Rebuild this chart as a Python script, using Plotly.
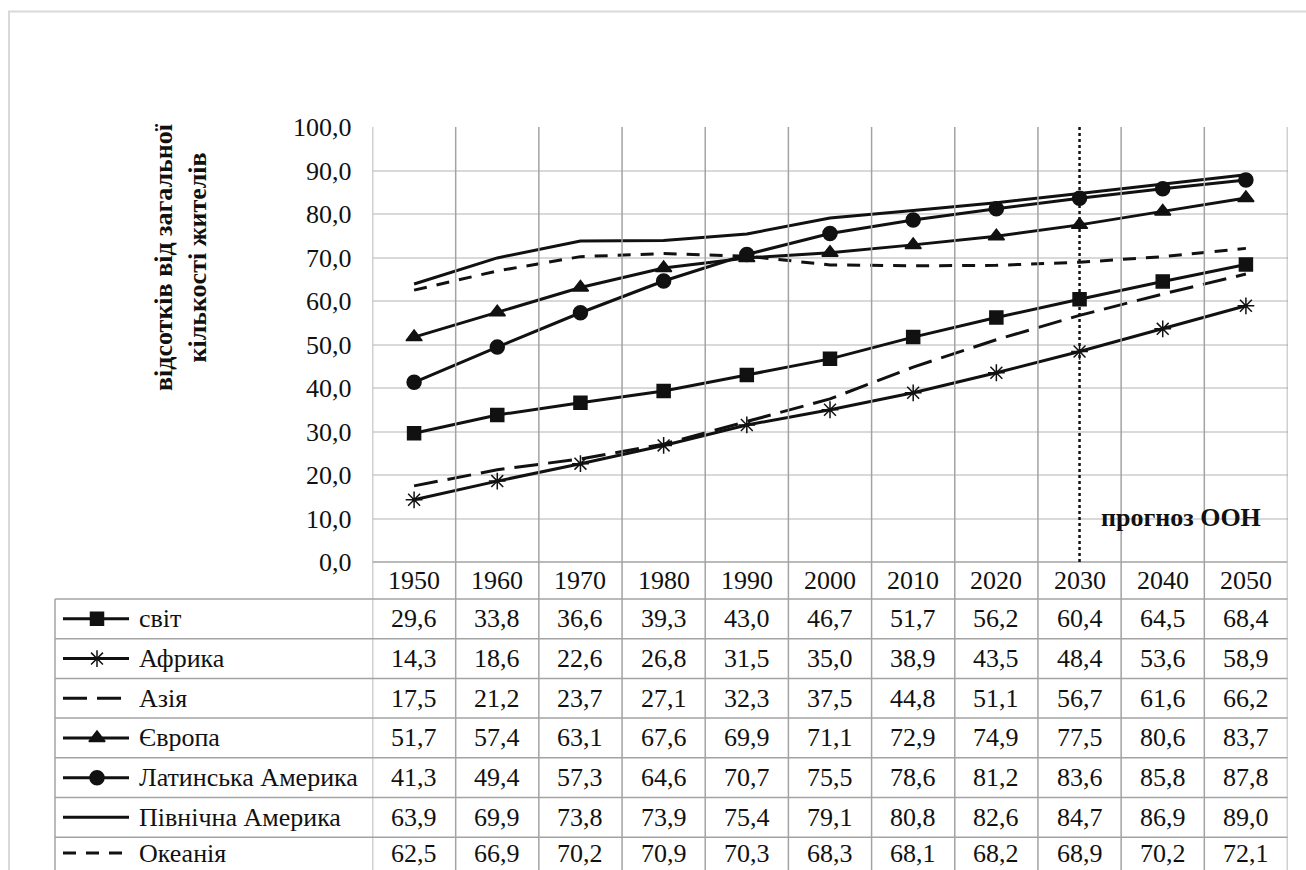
import plotly.graph_objects as go

# ---- data -------------------------------------------------------------
years = [1950, 1960, 1970, 1980, 1990, 2000, 2010, 2020, 2030, 2040, 2050]
svit = [29.6, 33.8, 36.6, 39.3, 43.0, 46.7, 51.7, 56.2, 60.4, 64.5, 68.4]
afryka = [14.3, 18.6, 22.6, 26.8, 31.5, 35.0, 38.9, 43.5, 48.4, 53.6, 58.9]
aziia = [17.5, 21.2, 23.7, 27.1, 32.3, 37.5, 44.8, 51.1, 56.7, 61.6, 66.2]
yevropa = [51.7, 57.4, 63.1, 67.6, 69.9, 71.1, 72.9, 74.9, 77.5, 80.6, 83.7]
latynska_amer = [41.3, 49.4, 57.3, 64.6, 70.7, 75.5, 78.6, 81.2, 83.6, 85.8, 87.8]
pivnichna_amer = [63.9, 69.9, 73.8, 73.9, 75.4, 79.1, 80.8, 82.6, 84.7, 86.9, 89.0]
okeaniia = [62.5, 66.9, 70.2, 70.9, 70.3, 68.3, 68.1, 68.2, 68.9, 70.2, 72.1]

series_names = ["світ", "Африка", "Азія", "Європа", "Латинська Америка",
                "Північна Америка", "Океанія"]
series_values = [svit, afryka, aziia, yevropa, latynska_amer, pivnichna_amer, okeaniia]

y_ticks = [0, 10, 20, 30, 40, 50, 60, 70, 80, 90, 100]
forecast_year = 2030
y_title = "відсотків від загальної<br>кількості жителів"
forecast_label = "прогноз ООН"

# ---- styling -----------------------------------------------------------
INK = "#111111"
GRID_H = "#d9d9d9"
GRID_V = "#a3a3a3"
FONT = "'Liberation Serif', 'Times New Roman', serif"
FONT_SIZE = 26

styles = [
    dict(dash="solid", symbol="square", size=13),
    dict(dash="solid", symbol="asterisk-open", size=14),
    dict(dash="24px,10px", symbol=None, size=0),
    dict(dash="solid", symbol="triangle-up", size=14),
    dict(dash="solid", symbol="circle", size=14),
    dict(dash="solid", symbol=None, size=0),
    dict(dash="13px,10px", symbol=None, size=0),
]

# ---- page geometry (pixels) -------------------------------------------
W, H = 1306, 870
PLOT_L, PLOT_R, PLOT_T, PLOT_B = 372.5, 1287.5, 127, 562
TABLE_L = 55
HEADER_B = 599
ROW_H = 39.7
LEG_X0, LEG_X1, LEG_MARK_X, LEG_TEXT_X = 63, 129, 97, 137
TEXT_BOTTOM_LIMIT = H - 17  # keep the last row's text box inside the page


def px(x):
    return x / W


def py(y):
    return 1 - y / H


def fmt(v):
    return f"{v:.1f}".replace(".", ",")


step = years[1] - years[0]
x_lo, x_hi = years[0] - step / 2, years[-1] + step / 2

fig = go.Figure()

# main lines
for name, vals, st in zip(series_names, series_values, styles):
    marker = dict(color=INK, size=st["size"], line=dict(color=INK, width=1.5))
    mode = "lines"
    if st["symbol"]:
        marker["symbol"] = st["symbol"]
        mode = "lines+markers"
    fig.add_trace(go.Scatter(
        x=years, y=vals, mode=mode, name=name,
        line=dict(color=INK, width=3, dash=st["dash"]),
        marker=marker, cliponaxis=False, showlegend=False,
    ))

# legend keys inside the table's first column
row_centers = [HEADER_B + ROW_H * (i + 0.5) for i in range(len(series_names))]
text_centers = [min(c, TEXT_BOTTOM_LIMIT) for c in row_centers]
for name, st, yc in zip(series_names, styles, text_centers):
    fig.add_trace(go.Scatter(
        x=[LEG_X0, LEG_X1], y=[yc, yc], mode="lines",
        line=dict(color=INK, width=3, dash=st["dash"]),
        xaxis="x2", yaxis="y2", showlegend=False, hoverinfo="skip",
        cliponaxis=False,
    ))
    if st["symbol"]:
        fig.add_trace(go.Scatter(
            x=[LEG_MARK_X], y=[yc], mode="markers",
            marker=dict(color=INK, size=st["size"], symbol=st["symbol"],
                        line=dict(color=INK, width=1.5)),
            xaxis="x2", yaxis="y2", showlegend=False, hoverinfo="skip",
            cliponaxis=False,
        ))

shapes = []
annotations = []

# outer chart border
shapes.append(dict(type="rect", xref="paper", yref="paper",
                   x0=px(9), x1=1.02, y0=-0.02, y1=py(11.5),
                   line=dict(color=GRID_H, width=2)))

# vertical column lines through plot and table
bottom = -0.02
for k in range(len(years) + 1):
    xb = x_lo + k * step
    shapes.append(dict(type="line", xref="x", yref="paper",
                       x0=xb, x1=xb, y0=bottom, y1=py(PLOT_T),
                       line=dict(color=GRID_V, width=1.5)))

# header row top line
shapes.append(dict(type="line", xref="x", yref="paper", x0=x_lo, x1=x_hi,
                   y0=py(PLOT_B), y1=py(PLOT_B), line=dict(color=GRID_V, width=1.5)))
# table row lines
for i in range(len(series_names) + 1):
    yl = HEADER_B + ROW_H * i
    shapes.append(dict(type="line", xref="paper", yref="paper",
                       x0=px(TABLE_L), x1=px(PLOT_R), y0=py(yl), y1=py(yl),
                       line=dict(color=GRID_V, width=1.5)))
# table left border
shapes.append(dict(type="line", xref="paper", yref="paper",
                   x0=px(TABLE_L), x1=px(TABLE_L), y0=bottom, y1=py(HEADER_B),
                   line=dict(color=GRID_V, width=1.5)))

# forecast marker line
shapes.append(dict(type="line", xref="x", yref="y", x0=forecast_year, x1=forecast_year,
                   y0=0, y1=100, line=dict(color=INK, width=2.5, dash="3px,3px")))

cell_font = dict(family=FONT, size=FONT_SIZE, color=INK)

# header years
for yr in years:
    annotations.append(dict(x=yr, y=py((PLOT_B + HEADER_B) / 2), xref="x", yref="paper",
                            text=str(yr), showarrow=False,
                            xanchor="center", yanchor="middle", font=cell_font))
# table values
for vals, yc in zip(series_values, text_centers):
    for yr, v in zip(years, vals):
        annotations.append(dict(x=yr, y=py(yc), xref="x", yref="paper",
                                text=fmt(v), showarrow=False,
                                xanchor="center", yanchor="middle", font=cell_font))
# legend labels
for name, yc in zip(series_names, text_centers):
    annotations.append(dict(x=px(LEG_TEXT_X), y=py(yc), xref="paper", yref="paper",
                            text=name, showarrow=False,
                            xanchor="left", yanchor="middle", font=cell_font))

# axis title
annotations.append(dict(x=px(181), y=py(257), xref="paper", yref="paper",
                        text=f"<b>{y_title}</b>", textangle=-90, showarrow=False,
                        xanchor="center", yanchor="middle",
                        font=dict(family=FONT, size=FONT_SIZE, color=INK)))
# forecast label
annotations.append(dict(x=2042.2, y=10.3, xref="x", yref="y",
                        text=f"<b>{forecast_label}</b>", showarrow=False,
                        xanchor="center", yanchor="middle",
                        font=dict(family=FONT, size=FONT_SIZE, color=INK)))

fig.update_layout(
    width=W, height=H,
    margin=dict(l=0, r=0, t=0, b=0, pad=0, autoexpand=False),
    paper_bgcolor="white", plot_bgcolor="white",
    separators=", ",
    showlegend=False,
    font=dict(family=FONT, color=INK),
    xaxis=dict(domain=[px(PLOT_L), px(PLOT_R)], range=[x_lo, x_hi],
               showgrid=False, showticklabels=False, zeroline=False,
               showline=False, ticks=""),
    yaxis=dict(domain=[py(PLOT_B), py(PLOT_T)], range=[0, 100],
               tickvals=y_ticks, tickformat=".1f",
               showgrid=True, gridcolor=GRID_H, gridwidth=2,
               zeroline=False, showline=False, ticks="",
               ticklabelstandoff=20,
               tickfont=dict(family=FONT, size=FONT_SIZE, color=INK)),
    xaxis2=dict(domain=[0, px(PLOT_L)], range=[0, PLOT_L], visible=False),
    yaxis2=dict(domain=[0, py(PLOT_B)], range=[H, PLOT_B], visible=False,
                anchor="x2"),
    shapes=shapes,
    annotations=annotations,
)

fig.write_html("out.html")
